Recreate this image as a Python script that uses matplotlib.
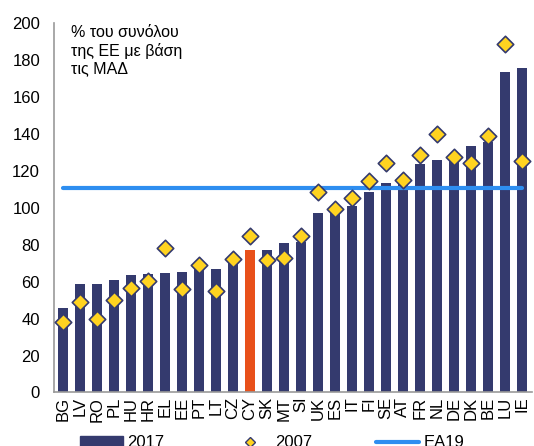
import matplotlib.pyplot as plt
from matplotlib.patches import Patch
from matplotlib.lines import Line2D

plt.rcParams['font.family'] = ['Liberation Sans', 'DejaVu Sans']

countries = ['BG', 'LV', 'RO', 'PL', 'HU', 'HR', 'EL', 'EE', 'PT', 'LT', 'CZ', 'CY', 'SK', 'MT',
             'SI', 'UK', 'ES', 'IT', 'FI', 'SE', 'AT', 'FR', 'NL', 'DE', 'DK', 'BE', 'LU', 'IE']
gdp_2017 = [46, 59, 59, 61, 63.5, 64, 64.5, 65.5, 68, 67, 72, 77, 77, 81,
            81.5, 97, 98, 101, 108.5, 113.5, 113, 123.5, 126, 127, 133.5, 135.5, 173.5, 176]
gdp_2007 = [38, 49, 40, 50, 56.5, 60.5, 78, 56, 69, 55, 72.5, 85, 71.5, 73,
            85, 108.5, 99.5, 105.5, 114.5, 124.5, 115, 128.5, 140, 127.5, 124.5, 139, 188.5, 125.5]
ea19 = 111

navy = '#343a6e'
orange = '#e8501a'
gold = '#ffd320'
blue = '#2e8ef0'

fig = plt.figure(figsize=(5.34, 4.46), dpi=100)
ax = fig.add_axes([0.101, 0.12, 0.895, 0.828])

x = list(range(len(countries)))
colors = [orange if c == 'CY' else navy for c in countries]
ax.bar(x, gdp_2017, width=0.6, color=colors, zorder=2)
ax.plot([x[0], x[-1]], [ea19, ea19], color=blue, lw=3, solid_capstyle='round', zorder=3)
ax.scatter(x, gdp_2007, marker='D', s=70, color=gold, edgecolors=navy, linewidths=1.2, zorder=4)

ax.set_xlim(-0.53, 27.6)
ax.set_ylim(0, 200)
ax.set_yticks(range(0, 201, 20))
ax.set_xticks(x)
ax.set_xticklabels(countries, rotation=90)
ax.tick_params(axis='y', length=0, pad=10, labelsize=12)
ax.tick_params(axis='x', length=0, pad=3, labelsize=12)
for s in ['top', 'right']:
    ax.spines[s].set_visible(False)
for s in ['left', 'bottom']:
    ax.spines[s].set_color('#999999')
    ax.spines[s].set_linewidth(1.2)

ax.text(0.036, 0.995, '% του συνόλου\nτης ΕΕ με βάση\nτις ΜΑΔ', transform=ax.transAxes,
        va='top', ha='left', fontsize=11.5, linespacing=1.2)

handles = [Patch(color=navy),
           Line2D([], [], marker='D', ls='none', markersize=5, markerfacecolor=gold,
                  markeredgecolor=navy, markeredgewidth=1),
           Line2D([], [], color=blue, lw=3, solid_capstyle='round')]
fig.legend(handles, ['2017', '2007', 'EA19'], loc='center left', bbox_to_anchor=(0.15, 0.007),
           ncol=3, frameon=False, fontsize=12, handlelength=2.6, handletextpad=0.25,
           columnspacing=3.8, borderpad=0, borderaxespad=0)

fig.savefig('out.png', dpi=100)
